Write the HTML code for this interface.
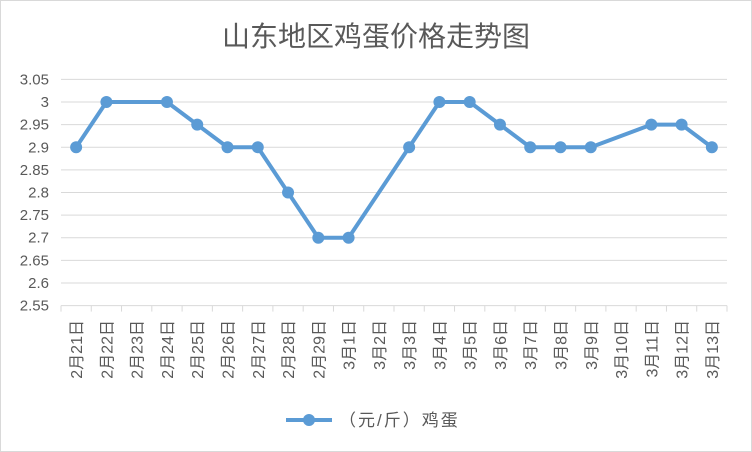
<!DOCTYPE html>
<html><head><meta charset="utf-8"><style>
body{margin:0;background:#fff}
svg{display:block;font-family:"Liberation Sans","Noto Sans CJK SC",sans-serif}
</style></head><body>
<svg id="c" width="752" height="452">
<rect x="0.5" y="0.5" width="751" height="451" fill="#fff" stroke="#d9d9d9"/>
<text x="376" y="46" text-anchor="middle" font-size="28" fill="#595959">山东地区鸡蛋价格走势图</text>
<g id="grid"></g><g id="yl"></g><g id="xl"></g><g id="series"></g>
<g>
<line x1="286" y1="420" x2="332" y2="420" stroke="#5b9bd5" stroke-width="4"/>
<circle cx="309" cy="420" r="6" fill="#5b9bd5"/>
<text x="339" y="426" font-size="17" letter-spacing="2" fill="#595959">（元/斤）鸡蛋</text>
</g>
</svg>
<script>
const categories=["2月21日","2月22日","2月23日","2月24日","2月25日","2月26日","2月27日","2月28日","2月29日","3月1日","3月2日","3月3日","3月4日","3月5日","3月6日","3月7日","3月8日","3月9日","3月10日","3月11日","3月12日","3月13日"];
const prices=[2.9,3,null,3,2.95,2.9,2.9,2.8,2.7,2.7,null,2.9,3,3,2.95,2.9,2.9,2.9,null,2.95,2.95,2.9];
const yTicks=["2.55","2.6","2.65","2.7","2.75","2.8","2.85","2.9","2.95","3","3.05"];
const NS="http://www.w3.org/2000/svg";
const L=61,R=727,T=79.4,B=305.6,ymin=2.55,ymax=3.05;
const bw=(R-L)/categories.length;
const xs=i=>L+bw*(i+0.5);
const ys=v=>B-(v-ymin)/(ymax-ymin)*(B-T);
function mk(t,a,p){const e=document.createElementNS(NS,t);for(const k in a)e.setAttribute(k,a[k]);p.appendChild(e);return e;}
const g=document.getElementById('grid'),yl=document.getElementById('yl'),xl=document.getElementById('xl'),s=document.getElementById('series');
yTicks.forEach(t=>{const y=ys(parseFloat(t));
const l=mk('line',{x1:L,x2:R,y1:y,y2:y,stroke:'#d9d9d9','stroke-width':1},g);


const tx=mk('text',{x:49,y:y+5,'text-anchor':'end','font-size':15,fill:'#595959'},yl);tx.textContent=t;

});
for(let i=0;i<=categories.length;i++){const x=L+bw*i;
const tk=mk('line',{x1:x,x2:x,y1:B,y2:B+6,stroke:'#d9d9d9','stroke-width':1},g);

}
categories.forEach((c,i)=>{const x=xs(i)+6,y=320;
const tx=mk('text',{x:x,y:y,'text-anchor':'end','font-size':16,fill:'#595959',transform:`rotate(-90 ${x} ${y})`},xl);tx.textContent=c;

});
const pts=[];prices.forEach((v,i)=>{if(v!=null)pts.push([xs(i),ys(v)]);});
const pl=mk('polyline',{points:pts.map(p=>p.join(',')).join(' '),fill:'none',stroke:'#5b9bd5','stroke-width':4,'stroke-linejoin':'round','stroke-linecap':'round'},s);


pts.forEach(p=>{const c=mk('circle',{cx:p[0],cy:p[1],r:6,fill:'#5b9bd5'},s);

});
</script>
</body></html>
